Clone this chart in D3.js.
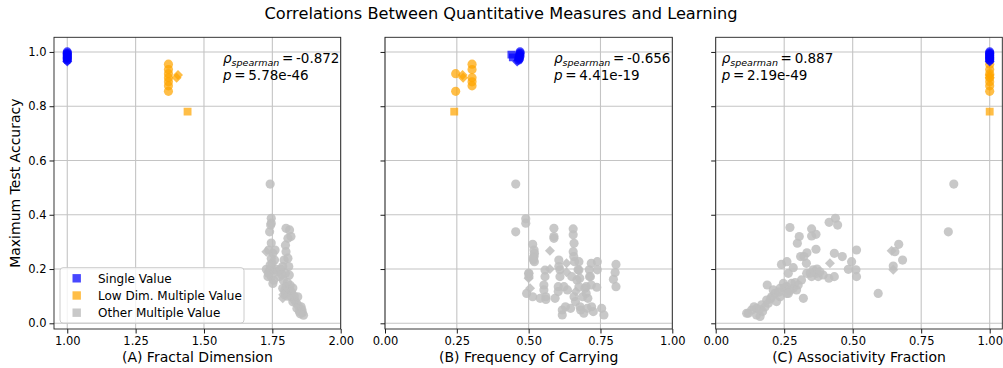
<!DOCTYPE html>
<html>
<head>
<meta charset="utf-8">
<script src="https://cdn.jsdelivr.net/npm/d3@7"></script>
<style>
  body { margin: 0; background: #fff; }
  text { font-family: "DejaVu Sans", sans-serif; fill: #000; }
</style>
</head>
<body>
<svg id="chart" width="1003" height="368"></svg>
<script>
// legend groups
var groupNames = ["Single Value", "Low Dim. Multiple Value", "Other Multiple Value"];

// single value points (same runs in every panel)
var blueAcc     = [1.0, 0.995, 0.99, 0.985, 0.98, 0.975, 0.97, 0.99, 0.98, 0.965];
var blueShape   = ["o","o","o","o","o","o","o","s","s","D"];
var blueFractal = [1, 1, 1, 1, 1, 1, 1, 1, 1, 1];
var blueCarry   = [0.47, 0.47, 0.468, 0.47, 0.466, 0.468, 0.465, 0.44, 0.445, 0.46];
var blueAssoc   = [1, 1, 1, 1, 1, 1, 1, 1, 1, 1];

// low dim. multiple value points
var orangeAcc     = [0.955, 0.935, 0.92, 0.905, 0.89, 0.875, 0.855, 0.915, 0.905, 0.78];
var orangeShape   = ["o","o","o","o","o","o","o","D","D","s"];
var orangeFractal = [1.37, 1.37, 1.37, 1.37, 1.37, 1.37, 1.37, 1.405, 1.40, 1.44];
var orangeCarry   = [0.303, 0.303, 0.246, 0.303, 0.303, 0.303, 0.246, 0.27, 0.272, 0.241];
var orangeAssoc   = [1, 1, 1, 1, 1, 1, 1, 1, 1, 1];

// other multiple value points, [x, accuracy, shape] for each panel
var greyFractal = [
  [1.742,0.513,"o"],[1.746,0.387,"o"],[1.746,0.369,"o"],[1.744,0.362,"o"],[1.740,0.337,"o"],
  [1.746,0.296,"o"],[1.737,0.270,"o"],[1.728,0.264,"D"],[1.752,0.258,"o"],[1.746,0.239,"o"],
  [1.749,0.220,"o"],[1.740,0.196,"o"],[1.752,0.196,"o"],[1.746,0.172,"o"],[1.755,0.159,"o"],
  [1.728,0.199,"o"],[1.734,0.172,"o"],[1.758,0.233,"o"],[1.764,0.199,"o"],[1.776,0.172,"o"],
  [1.752,0.147,"o"],[1.760,0.270,"o"],[1.770,0.190,"o"],[1.742,0.215,"o"],[1.735,0.185,"o"],
  [1.800,0.350,"o"],[1.813,0.344,"o"],[1.818,0.320,"o"],[1.807,0.313,"o"],[1.798,0.288,"o"],
  [1.800,0.264,"o"],[1.793,0.233,"o"],[1.807,0.240,"o"],[1.788,0.209,"o"],[1.810,0.209,"o"],
  [1.798,0.184,"o"],[1.812,0.178,"o"],[1.790,0.159,"o"],[1.805,0.150,"o"],[1.788,0.129,"o"],
  [1.800,0.135,"o"],[1.813,0.123,"o"],[1.798,0.110,"o"],[1.788,0.092,"D"],[1.819,0.098,"o"],
  [1.825,0.079,"o"],[1.831,0.086,"o"],[1.815,0.140,"o"],[1.820,0.115,"o"],[1.843,0.098,"o"],
  [1.838,0.075,"o"],[1.845,0.065,"o"],[1.855,0.061,"o"],[1.849,0.043,"o"],[1.864,0.030,"o"],
  [1.858,0.050,"o"],[1.860,0.040,"o"],[1.840,0.055,"o"],[1.852,0.035,"o"],[1.830,0.100,"o"],
  [1.825,0.130,"o"],[1.780,0.200,"o"],[1.785,0.180,"o"],[1.795,0.120,"o"],[1.805,0.100,"o"],
  [1.790,0.105,"D"]
];
var greyCarry = [
  [0.455,0.513,"o"],[0.455,0.337,"o"],[0.490,0.385,"o"],[0.490,0.369,"o"],[0.514,0.291,"o"],
  [0.519,0.270,"o"],[0.519,0.246,"o"],[0.517,0.233,"o"],[0.501,0.184,"o"],[0.501,0.172,"o"],
  [0.493,0.110,"o"],[0.505,0.129,"D"],[0.500,0.166,"D"],[0.560,0.098,"o"],[0.560,0.088,"o"],
  [0.588,0.350,"o"],[0.588,0.320,"o"],[0.588,0.313,"o"],[0.574,0.267,"D"],[0.574,0.200,"D"],
  [0.609,0.197,"o"],[0.609,0.172,"o"],[0.603,0.135,"o"],[0.603,0.117,"o"],[0.592,0.092,"o"],
  [0.617,0.049,"o"],[0.617,0.031,"o"],[0.655,0.348,"o"],[0.655,0.326,"o"],[0.658,0.295,"o"],
  [0.655,0.264,"o"],[0.657,0.246,"o"],[0.660,0.227,"o"],[0.632,0.221,"D"],[0.632,0.188,"D"],
  [0.672,0.197,"o"],[0.678,0.166,"o"],[0.668,0.160,"o"],[0.664,0.117,"D"],[0.696,0.129,"o"],
  [0.700,0.111,"o"],[0.706,0.092,"o"],[0.679,0.061,"o"],[0.681,0.049,"o"],[0.704,0.055,"o"],
  [0.719,0.061,"o"],[0.725,0.043,"o"],[0.711,0.197,"o"],[0.715,0.172,"o"],[0.739,0.227,"o"],
  [0.739,0.197,"o"],[0.737,0.133,"o"],[0.754,0.055,"o"],[0.762,0.031,"o"],[0.804,0.217,"o"],
  [0.801,0.187,"o"],[0.795,0.162,"o"],[0.804,0.135,"o"],[0.700,0.135,"o"],[0.650,0.172,"o"],
  [0.688,0.098,"o"],[0.520,0.258,"o"],[0.516,0.239,"o"],[0.520,0.227,"o"],[0.500,0.184,"o"],
  [0.557,0.196,"o"],[0.557,0.172,"o"],[0.553,0.141,"o"],[0.553,0.123,"o"],[0.514,0.098,"o"],
  [0.540,0.092,"o"],[0.605,0.233,"o"],[0.605,0.209,"o"],[0.623,0.135,"o"],[0.635,0.123,"o"],
  [0.628,0.061,"o"],[0.646,0.055,"o"],[0.675,0.227,"o"],[0.675,0.196,"o"],[0.658,0.098,"o"],
  [0.663,0.080,"o"],[0.692,0.037,"o"],[0.718,0.221,"o"],[0.712,0.172,"o"],[0.718,0.141,"o"],
  [0.675,0.135,"o"]
];
var greyAssoc = [
  [0.869,0.513,"o"],[0.849,0.337,"o"],[0.593,0.110,"o"],[0.668,0.291,"o"],[0.654,0.264,"o"],
  [0.682,0.233,"o"],[0.642,0.267,"D"],[0.648,0.211,"o"],[0.648,0.197,"D"],[0.514,0.270,"o"],
  [0.462,0.246,"o"],[0.496,0.227,"o"],[0.484,0.199,"o"],[0.512,0.197,"o"],[0.514,0.172,"o"],
  [0.433,0.258,"o"],[0.417,0.221,"D"],[0.414,0.372,"o"],[0.437,0.387,"o"],[0.445,0.362,"o"],
  [0.433,0.172,"o"],[0.413,0.166,"o"],[0.271,0.353,"o"],[0.305,0.320,"o"],[0.298,0.295,"o"],
  [0.350,0.348,"o"],[0.366,0.328,"o"],[0.350,0.322,"o"],[0.333,0.260,"o"],[0.322,0.246,"o"],
  [0.366,0.273,"o"],[0.310,0.246,"o"],[0.240,0.217,"o"],[0.260,0.227,"o"],[0.283,0.205,"o"],
  [0.265,0.184,"o"],[0.331,0.221,"o"],[0.356,0.197,"o"],[0.368,0.184,"o"],[0.350,0.172,"o"],
  [0.332,0.184,"o"],[0.374,0.172,"o"],[0.392,0.178,"o"],[0.360,0.190,"o"],[0.370,0.200,"o"],
  [0.345,0.185,"o"],[0.380,0.190,"o"],[0.313,0.160,"o"],[0.301,0.141,"o"],[0.283,0.129,"o"],
  [0.259,0.110,"o"],[0.235,0.129,"o"],[0.216,0.110,"o"],[0.188,0.141,"o"],[0.204,0.098,"o"],
  [0.186,0.086,"o"],[0.168,0.068,"o"],[0.149,0.055,"o"],[0.131,0.049,"o"],[0.119,0.037,"o"],
  [0.149,0.031,"o"],[0.162,0.025,"o"],[0.140,0.061,"o"],[0.113,0.037,"o"],[0.171,0.043,"o"],
  [0.192,0.074,"o"],[0.222,0.080,"o"],[0.235,0.098,"o"],[0.259,0.135,"o"],[0.277,0.147,"o"],
  [0.247,0.147,"o"],[0.295,0.123,"o"],[0.320,0.092,"o"],[0.210,0.123,"o"],[0.250,0.130,"o"],
  [0.270,0.120,"o"],[0.230,0.115,"o"],[0.200,0.090,"o"],[0.180,0.060,"o"],[0.160,0.050,"o"],
  [0.290,0.150,"o"],[0.265,0.110,"o"]
];

// panel labels, ticks and correlation text
var xLabels   = ["(A) Fractal Dimension", "(B) Frequency of Carrying", "(C) Associativity Fraction"];
var xTicksA   = [1.00, 1.25, 1.50, 1.75, 2.00];
var xTicksBC  = [0.00, 0.25, 0.50, 0.75, 1.00];
var yTicks    = [0.0, 0.2, 0.4, 0.6, 0.8, 1.0];
var rhoValues = ["-0.872", "-0.656", "0.887"];
var pValues   = ["5.78e-46", "4.41e-19", "2.19e-49"];

var colors = ["#0000ff", "#ffa500", "#bebebe"];
var svg = d3.select("#chart");

// figure title
svg.append("text")
  .attr("x", 501).attr("y", 19)
  .attr("text-anchor", "middle")
  .style("font-size", "16.2px")
  .text("Correlations Between Quantitative Measures and Learning");

var plotTop = 37.3, plotBottom = 329;
var y = d3.scaleLinear().domain([-0.021, 1.054]).range([plotBottom, plotTop]);

var panels = [
  { left: 54,    right: 340.7,  domain: [0.9515, 2.0], ticks: xTicksA,
    grey: greyFractal, blueX: blueFractal, orangeX: orangeFractal, textX: 223 },
  { left: 385,   right: 672.3,  domain: [0, 1],        ticks: xTicksBC,
    grey: greyCarry, blueX: blueCarry, orangeX: orangeCarry, textX: 554 },
  { left: 715.7, right: 1002.3, domain: [0, 1.046],    ticks: xTicksBC,
    grey: greyAssoc, blueX: blueAssoc, orangeX: orangeAssoc, textX: 721.7 }
];

function symbolFor(shape) {
  if (shape == "s") return d3.symbol().type(d3.symbolSquare).size(62)();
  if (shape == "D") return d3.symbol().type(d3.symbolSquare).size(50)();
  return d3.symbol().type(d3.symbolCircle).size(66)();
}

panels.forEach(function(p, i) {
  var x = d3.scaleLinear().domain(p.domain).range([p.left, p.right]);
  var g = svg.append("g");

  // clip to the axes box
  g.append("clipPath").attr("id", "clip" + i)
    .append("rect")
      .attr("x", p.left).attr("y", plotTop)
      .attr("width", p.right - p.left).attr("height", plotBottom - plotTop);

  // grid lines
  g.selectAll(".vgrid").data(p.ticks).enter().append("line")
    .attr("x1", function(d) { return x(d); }).attr("x2", function(d) { return x(d); })
    .attr("y1", plotTop).attr("y2", plotBottom)
    .style("stroke", "#c4c4c4").style("stroke-width", 1.1);
  g.selectAll(".hgrid").data(yTicks).enter().append("line")
    .attr("x1", p.left).attr("x2", p.right)
    .attr("y1", function(d) { return y(d); }).attr("y2", function(d) { return y(d); })
    .style("stroke", "#c4c4c4").style("stroke-width", 1.1);

  // build the point list: grey first, then orange, then blue on top
  var pts = [];
  p.grey.forEach(function(d) { pts.push({ x: d[0], acc: d[1], shape: d[2], grp: 2 }); });
  orangeAcc.forEach(function(a, j) { pts.push({ x: p.orangeX[j], acc: a, shape: orangeShape[j], grp: 1 }); });
  blueAcc.forEach(function(a, j) { pts.push({ x: p.blueX[j], acc: a, shape: blueShape[j], grp: 0 }); });

  g.append("g").attr("clip-path", "url(#clip" + i + ")")
    .selectAll("path").data(pts).enter().append("path")
      .attr("d", function(d) { return symbolFor(d.shape); })
      .attr("transform", function(d) {
        return "translate(" + x(d.x) + "," + y(d.acc) + ")" + (d.shape == "D" ? " rotate(45)" : "");
      })
      .style("fill", function(d) { return colors[d.grp]; })
      .style("fill-opacity", function(d) { return d.grp == 2 ? 0.85 : 0.72; });

  // axes
  var xAxis = d3.axisBottom(x).tickValues(p.ticks).tickFormat(d3.format(".2f")).tickSize(4.5).tickPadding(3);
  var gx = g.append("g").attr("transform", "translate(0," + plotBottom + ")").call(xAxis);
  gx.select(".domain").remove();
  gx.selectAll("text").style("font-size", "11.5px").style("font-family", "DejaVu Sans");
  gx.selectAll("line").style("stroke", "#000").style("stroke-width", 0.9);

  var yAxis = d3.axisLeft(y).tickValues(yTicks).tickSize(4.5).tickPadding(3)
    .tickFormat(i == 0 ? d3.format(".1f") : "");
  var gy = g.append("g").attr("transform", "translate(" + p.left + ",0)").call(yAxis);
  gy.select(".domain").remove();
  gy.selectAll("text").style("font-size", "11.5px").style("font-family", "DejaVu Sans");
  gy.selectAll("line").style("stroke", "#000").style("stroke-width", 0.9);

  // frame
  g.append("rect")
    .attr("x", p.left).attr("y", plotTop)
    .attr("width", p.right - p.left).attr("height", plotBottom - plotTop)
    .style("fill", "none").style("stroke", "#222").style("stroke-width", 0.9);

  // x label
  g.append("text")
    .attr("x", (p.left + p.right) / 2).attr("y", 362)
    .attr("text-anchor", "middle")
    .style("font-size", "14px")
    .text(xLabels[i]);

  // correlation annotation
  var t1 = g.append("text").attr("x", p.textX).attr("y", 63).style("font-size", "13.5px");
  t1.append("tspan").style("font-style", "italic").text("ρ");
  t1.append("tspan").style("font-style", "italic").style("font-size", "9.5px").attr("dy", 3).text("spearman");
  t1.append("tspan").attr("dy", -3).text("\u2009=\u2009" + rhoValues[i]);
  var t2 = g.append("text").attr("x", p.textX).attr("y", 80).style("font-size", "13.5px");
  t2.append("tspan").style("font-style", "italic").text("p");
  t2.append("tspan").text("\u2009=\u2009" + pValues[i]);
});

// y label
svg.append("text")
  .attr("transform", "translate(20," + (plotTop + plotBottom) / 2 + ") rotate(-90)")
  .attr("text-anchor", "middle")
  .style("font-size", "14px")
  .text("Maximum Test Accuracy");

// legend
var leg = svg.append("g").attr("transform", "translate(60,267.7)");
leg.append("rect")
  .attr("width", 184).attr("height", 55.3).attr("rx", 3)
  .style("fill", "#fff").style("fill-opacity", 0.8)
  .style("stroke", "#cccccc").style("stroke-width", 1);
var rows = leg.selectAll(".row").data(groupNames).enter().append("g")
  .attr("transform", function(d, i) { return "translate(0," + (10.6 + i * 17.2) + ")"; });
rows.append("rect")
  .attr("x", 12.5).attr("y", -4.2).attr("width", 8.4).attr("height", 8.4)
  .style("fill", function(d, i) { return colors[i]; })
  .style("fill-opacity", function(d, i) { return i == 2 ? 0.85 : 0.72; });
rows.append("text")
  .attr("x", 38).attr("y", 4.3)
  .style("font-size", "12px")
  .text(function(d) { return d; });
</script>
</body>
</html>
